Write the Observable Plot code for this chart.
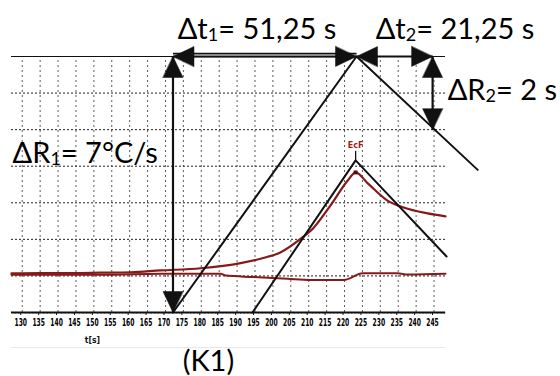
<!DOCTYPE html>
<html><head><meta charset="utf-8">
<script src="https://cdn.jsdelivr.net/npm/d3@7"></script>
<script src="https://cdn.jsdelivr.net/npm/@observablehq/plot@0.6"></script>
<style>html,body{margin:0;padding:0;background:#fff}svg{display:block}</style>
</head><body><div id="chart"></div>
<script>
// ---- data ----
const xTicks = [130,135,140,145,150,155,160,165,170,175,180,185,190,195,200,205,210,215,220,225,230,235,240,245];
const gridV = [1,2,3,4,5,6];
// upper measured curve (dark red)
const upperT = [127.0,135.1,144.3,151.9,160.3,168.6,179.8,191.0,196.6,202.2,207.8,211.4,216.1,220.9,223.1,226.5,232.0,236.5,243.2,248.2];
const upperV = [1.07,1.08,1.08,1.09,1.10,1.15,1.21,1.35,1.47,1.65,2.02,2.32,2.93,3.61,3.83,3.53,3.06,2.87,2.71,2.63];
// lower measured curve
const lowerT = [127.0,151.9,168.6,185.4,186.8,194.6,204.1,210.5,219.8,225.1,234.8,237.7,248.2];
const lowerV = [1.03,1.03,1.06,1.06,1.01,0.97,0.92,0.89,0.89,1.07,1.07,1.04,1.06];
// construction lines
const bigT = [172.1,223.35,257.2];
const bigV = [0,7,3.9];
const smallT = [194.3,223.1,248.5];
const smallV = [0,4.16,1.53];
// dimension arrows: [t1, v1, t2, v2]
const arrowT1 = [172.1,172.1,223.35,244.6];
const arrowV1 = [0,7,7,7];
const arrowT2 = [172.1,223.35,244.6,244.6];
const arrowV2 = [7,7,7,5];
// arrow heads (tip position, direction in degrees clockwise from up)
const headT = [172.1,172.1,172.1,223.35,223.35,244.6,244.6,244.6];
const headV = [0,7,7,7,7,7,7,5];
const headDir = [180,0,270,90,270,90,0,180];
// annotations
const annMain = ["Δt","Δt","ΔR","ΔR","(K1)"];
const annSub  = ["1","2","2","1",""];
const annRest = ["= 51,25 s","= 21,25 s","= 2 s","= 7°C/s",""];
const annT = [173.4,228.7,248.8,127.3,174.8];
const annV = [7.47,7.49,5.80,4.10,-1.60];

// ---- tables ----
const upper = upperT.map((t,i)=>({t, v: upperV[i]}));
const lower = lowerT.map((t,i)=>({t, v: lowerV[i]}));
const big = bigT.map((t,i)=>({t, v: bigV[i]}));
const small = smallT.map((t,i)=>({t, v: smallV[i]}));
const arrows = arrowT1.map((t,i)=>({t1:t, v1:arrowV1[i], t2:arrowT2[i], v2:arrowV2[i]}));
const heads = headT.map((t,i)=>({t, v: headV[i], dir: headDir[i]}));
const anns = annMain.map((m,i)=>({m, s: annSub[i], r: annRest[i], t: annT[i], v: annV[i], full: m + annSub[i] + annRest[i]}));
const minor = d3.range(128, 249, 1).filter(d => d % 5 !== 0);

const tri = {draw(ctx, l, r){ ctx.moveTo(0,-l); ctx.lineTo(r,0); ctx.lineTo(-r,0); ctx.closePath(); }};
const ink = "#111";
const red = "#861a1a";
const font = "Lato, 'Open Sans', sans-serif";
const narrow = "'Liberation Sans Narrow','DejaVu Sans Condensed','DejaVu Sans',sans-serif";

const chart = Plot.plot({
  width: 560, height: 376,
  marginLeft: 11, marginRight: 115, marginTop: 56, marginBottom: 64,
  x: {domain: [127, 248.2], axis: null},
  y: {domain: [0, 7], axis: null},
  style: {background: "#fff", overflow: "visible"},
  marks: [
    // grid
    Plot.ruleX(xTicks, {y1: 0, y2: 7, stroke: "#333", strokeWidth: 1, strokeDasharray: "2,3", strokeOpacity: 0.8}),
    Plot.ruleY(gridV, {x1: 127, x2: 248.2, stroke: "#222", strokeWidth: 1, strokeDasharray: "2,2"}),
    Plot.ruleY([7], {x1: 127, x2: 248.2, stroke: ink, strokeWidth: 1}),
    Plot.ruleY([-0.96], {x1: 127, x2: 248.2, stroke: "#e6e6e6", strokeWidth: 1}),
    // axis
    Plot.axisX(minor, {tickSize: 1.5, text: null, stroke: "#444"}),
    Plot.axisX(xTicks, {tickSize: 3, tickPadding: 3.5, fontSize: 10.5, fontWeight: "bold",
      fontFamily: narrow, tickFormat: d => String(d), label: null, stroke: ink, dx: -1.5}),
    Plot.ruleY([0], {x1: 127, x2: 248.2, stroke: ink, strokeWidth: 2}),
    Plot.text(["t[s]"], {x: 149.6, y: -0.83, text: d => d, fontSize: 8.5, fontWeight: "bold", lineAnchor: "bottom",
      fontFamily: narrow, fill: ink}),
    // measured curves
    Plot.line(lower, {x: "t", y: "v", stroke: red, strokeWidth: 2, curve: "monotone-x"}),
    Plot.line(upper, {x: "t", y: "v", stroke: red, strokeWidth: 2.2, curve: "monotone-x"}),
    // construction lines
    Plot.line(big, {x: "t", y: "v", stroke: ink, strokeWidth: 2}),
    Plot.line(small, {x: "t", y: "v", stroke: ink, strokeWidth: 2}),
    Plot.link([{t: 223.1}], {x1: "t", x2: "t", y1: 4.16, y2: 4.42, stroke: ink, strokeWidth: 1.3}),
    Plot.dot([{t: 223.1, v: 3.83}], {x: "t", y: "v", symbol: "square", r: 2.2, fill: "#4a0c0c"}),
    Plot.text(["EcF"], {x: 223.1, y: 4.56, text: d => d, fontSize: 8, fontWeight: "bold", fill: "#a01c1c",
      fontFamily: "'DejaVu Sans', sans-serif"}),
    // dimension arrows
    Plot.link(arrows, {x1: "t1", y1: "v1", x2: "t2", y2: "v2", stroke: ink, strokeWidth: 2.2}),
    Plot.link(arrows.filter(d => d.t1 === 172.1 && d.v1 === 7), {x1: "t1", y1: "v1", x2: "t2", y2: "v2", stroke: ink, strokeWidth: 4.4, dy: -1.5}),
    Plot.link(arrows.filter(d => d.t1 === 172.1 && d.v1 === 7), {x1: "t1", y1: "v1", x2: "t2", y2: "v2", stroke: "#fff", strokeWidth: 1.1, dy: -1.5}),
    Plot.vector(heads, {x: "t", y: "v", rotate: "dir", length: 21, r: 10, anchor: "end", shape: tri,
      fill: ink, stroke: ink, strokeWidth: 0.5}),
    // annotations
    Plot.text(anns, {x: "t", y: "v", text: "full", textAnchor: "start", lineAnchor: "bottom",
      fontSize: 29, fontFamily: font, fill: "#000"})
  ]
});

const svg = d3.select(chart);
// rebuild annotation texts with real subscripts
svg.selectAll("text").each(function() {
  const el = d3.select(this);
  const content = this.textContent;
  const a = anns.find(d => d.full === content);
  if (a) {
    el.text(null);
    el.append("tspan").text(a.m);
    if (a.s) {
      el.append("tspan").attr("font-size", "18px").attr("dy", "2px").text(a.s);
      el.append("tspan").attr("dy", "-2px").text(a.r);
    } else if (a.r) {
      el.append("tspan").text(a.r);
    }
  } else if (xTicks.map(String).includes(content)) {
    el.attr("textLength", 12.5).attr("lengthAdjust", "spacingAndGlyphs");
  }
});

document.getElementById("chart").appendChild(chart);
</script>
</body></html>
